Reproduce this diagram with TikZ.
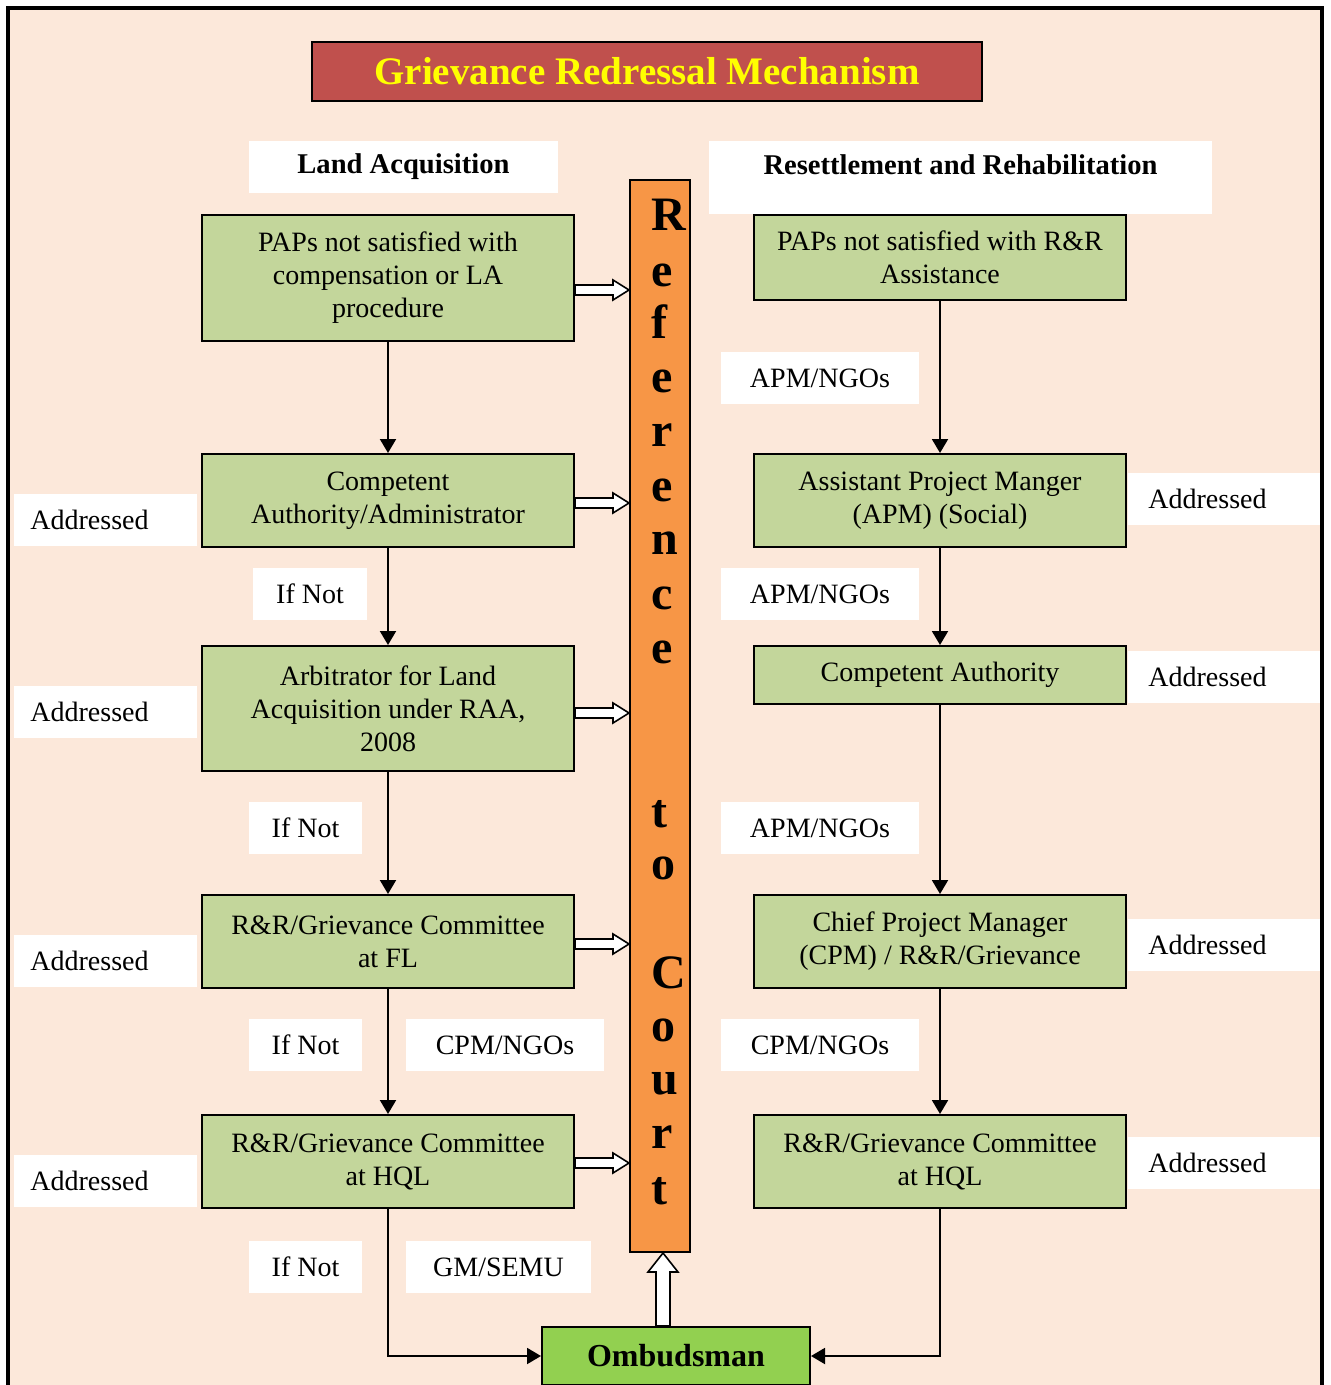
\documentclass[tikz,border=0pt]{standalone}
\usepackage{fontspec}
\setmainfont{Liberation Serif}
\usetikzlibrary{calc, arrows.meta}
\definecolor{peach}{RGB}{252,232,218}
\definecolor{boxgreen}{RGB}{195,214,155}
\definecolor{orng}{RGB}{247,150,70}
\definecolor{titlered}{RGB}{192,80,77}
\definecolor{omgreen}{RGB}{146,208,80}
\definecolor{ttlyellow}{RGB}{255,255,0}

\begin{document}
\begin{tikzpicture}[x=0.5pt, y=-0.5pt,
gb/.style = {% green boxes
    draw, line width=1pt, fill=boxgreen, minimum width=186pt,
    align=center, inner sep=2pt, font=\fontsize{14}{16.5}\selectfont,
            },
wl/.style = {% white labels
    fill=white, inner sep=0pt, minimum height=26pt,
    font=\fontsize{14}{16}\selectfont,
            },
ar/.style = {% flow arrows
    line width=1pt, -{Triangle[length=7pt,width=8pt]},
            },
ba/.style = {% block arrows
    draw, fill=white, line width=0.8pt,
            },
                        ]
\useasboundingbox (0,0) rectangle (1330,1385);
% frame
\fill[white] (0,0) rectangle (1330,1385);
\draw[line width=2pt, fill=peach] (8,8) rectangle (1322,1400);
% title
\node[draw, line width=1pt, fill=titlered, minimum width=335pt, minimum height=29.5pt,
      text=ttlyellow, font=\fontsize{19.5}{22}\selectfont\bfseries] (title) at (647,71.5)
      {Grievance Redressal Mechanism};
% headings
\node[wl, minimum width=154.5pt, font=\fontsize{14.3}{16}\selectfont\bfseries] (hla) at (403.5,167)
      {Land Acquisition};
\node[wl, anchor=north, minimum width=251.5pt, inner ysep=6.5pt, text height=10pt, text depth=13.5pt,
      font=\fontsize{14.3}{16}\selectfont\bfseries] (hrr) at (960.5,141)
      {Resettlement and Rehabilitation};
% reference to court
\node[draw, line width=1pt, fill=orng, minimum width=30pt, minimum height=536pt, inner sep=0pt]
      (bar) at (660,716) {};
\foreach \c/\y [count=\i] in {R/231, e/287, f/338, e/393, r/446, e/501, n/554, c/609, e/663,
                              t/827, o/879, C/988, o/1041, u/1094, r/1148, t/1204}
   {\node[anchor=base west, inner sep=0pt, font=\fontsize{24}{24}\selectfont\bfseries] (ch\i) at (651,\y) {\c};}
% land acquisition
\node[gb, minimum height=63pt]   (l1) at (388,278)    {PAPs not satisfied with\\compensation or LA\\procedure};
\node[gb, minimum height=46.5pt] (l2) at (388,500.5)  {Competent\\Authority/Administrator};
\node[gb, minimum height=62.5pt] (l3) at (388,708.5)  {Arbitrator for Land\\Acquisition under RAA,\\2008};
\node[gb, minimum height=46.5pt] (l4) at (388,941.5)  {R\&R/Grievance Committee\\at FL};
\node[gb, minimum height=46.5pt] (l5) at (388,1161.5) {R\&R/Grievance Committee\\at HQL};
% resettlement and rehabilitation
\node[gb, minimum height=42.5pt] (r1) at (940,257.5)  {PAPs not satisfied with R\&R\\Assistance};
\node[gb, minimum height=46.5pt] (r2) at (940,500.5)  {Assistant Project Manger\\(APM) (Social)};
\node[gb, minimum height=29pt]   (r3) at (940,675)    {Competent Authority};
\node[gb, minimum height=46.5pt] (r4) at (940,941.5)  {Chief Project Manager\\(CPM) / R\&R/Grievance};
\node[gb, minimum height=46.5pt] (r5) at (940,1161.5) {R\&R/Grievance Committee\\at HQL};
% ombudsman
\node[draw, line width=1pt, fill=omgreen, minimum width=134pt, minimum height=29pt,
      font=\fontsize{16}{18}\selectfont\bfseries] (om) at (676,1356) {Ombudsman};
% labels
\foreach \y [count=\i] in {520,712,961,1181}
   {\node[wl, anchor=west, text width=75.5pt, inner xsep=8pt, align=left] (adl\i) at (14,\y) {Addressed};}
\foreach \y [count=\i] in {499,677,945,1163}
   {\node[wl, anchor=west, text width=76pt, inner xsep=10pt, align=left] (adr\i) at (1128,\y) {Addressed};}
\node[wl, minimum width=57pt]   (ifn1) at (310,594)    {If Not};
\node[wl, minimum width=56.5pt] (ifn2) at (305.5,828)  {If Not};
\node[wl, minimum width=56.5pt] (ifn3) at (305.5,1045) {If Not};
\node[wl, minimum width=56.5pt] (ifn4) at (305.5,1267) {If Not};
\node[wl, minimum width=99pt]   (cpl)  at (505,1045)   {CPM/NGOs};
\node[wl, minimum width=92.5pt] (gm)   at (498.5,1267) {GM/SEMU};
\node[wl, minimum width=99pt]   (apm1) at (820,378)    {APM/NGOs};
\node[wl, minimum width=99pt]   (apm2) at (820,594)    {APM/NGOs};
\node[wl, minimum width=99pt]   (apm3) at (820,828)    {APM/NGOs};
\node[wl, minimum width=99pt]   (cpr)  at (820,1045)   {CPM/NGOs};
% flow arrows
\foreach \a/\b in {l1/l2, l2/l3, l3/l4, l4/l5, r1/r2, r2/r3, r3/r4, r4/r5}
   {\draw[ar] (\a) -- (\b);}
\draw[ar] (l5) |- (om);
\draw[ar] (r5) |- (om);
% block arrows to court
\foreach \n/\dy in {l1/-6, l2/-1.25, l3/-2.25, l4/-1.25, l5/-0.75}{
   \coordinate (s) at ([yshift=\dy pt]\n.east);
   \coordinate (t) at (s -| bar.west);
   \draw[ba] ($(s)+(0,2.5pt)$) -- ($(t)+(-8pt,2.5pt)$) -- ($(t)+(-8pt,5pt)$) -- (t)
      -- ($(t)+(-8pt,-5pt)$) -- ($(t)+(-8pt,-2.5pt)$) -- ($(s)+(0,-2.5pt)$) -- cycle;
}
\coordinate (u) at ([xshift=1.5pt]bar.south);
\coordinate (v) at (u |- om.north);
\draw[ba] ($(v)+(-3.5pt,0)$) -- ($(u)+(-3.5pt,-9.5pt)$) -- ($(u)+(-7.5pt,-9.5pt)$) -- (u)
   -- ($(u)+(7.5pt,-9.5pt)$) -- ($(u)+(3.5pt,-9.5pt)$) -- ($(v)+(3.5pt,0)$) -- cycle;
\end{tikzpicture}
\end{document}
